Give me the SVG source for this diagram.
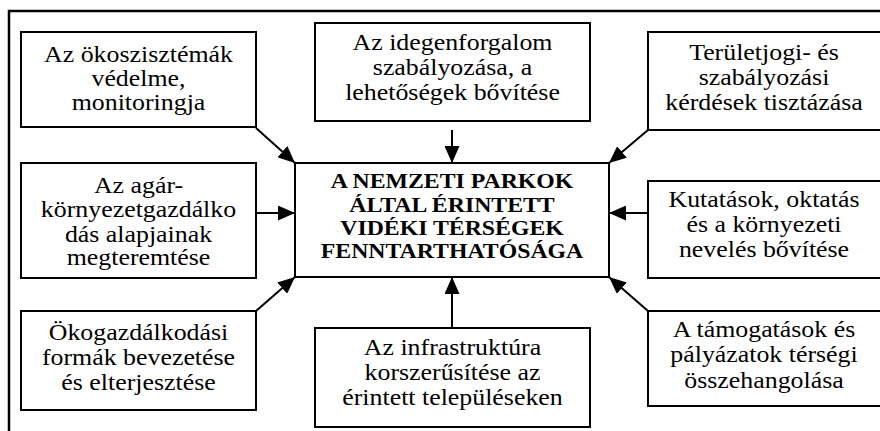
<svg xmlns="http://www.w3.org/2000/svg" width="880" height="431" viewBox="0 0 880 431">
<style>
.box{fill:#fff;stroke:#000;stroke-width:2}
.t{font-family:"Liberation Serif","Times New Roman",serif;font-size:22.5px;text-anchor:middle;fill:#000}
.b{font-family:"Liberation Serif","Times New Roman",serif;font-size:20.5px;font-weight:bold;text-anchor:middle;fill:#000}
.c{stroke:#000;stroke-width:2;fill:none;marker-end:url(#ah)}
</style>
<defs>
<marker id="ah" viewBox="0 0 17 15" refX="17" refY="7.5" markerWidth="17" markerHeight="15" markerUnits="userSpaceOnUse" orient="auto">
<path d="M0,0 L17,7.5 L0,15 z" fill="#000"/>
</marker>
</defs>
<rect x="0" y="0" width="880" height="431" fill="#fff"/>
<rect x="9" y="11" width="900" height="500" fill="none" stroke="#000" stroke-width="2.5"/>
<g id="connectors">
<line class="c" x1="256" y1="128" x2="295" y2="163"/>
<line class="c" x1="452" y1="130" x2="452" y2="163"/>
<line class="c" x1="648" y1="130" x2="609" y2="163"/>
<line class="c" x1="256" y1="213" x2="295" y2="213"/>
<line class="c" x1="648" y1="213" x2="609" y2="213"/>
<line class="c" x1="256" y1="311" x2="295" y2="277"/>
<line class="c" x1="452" y1="328" x2="452" y2="277"/>
<line class="c" x1="648" y1="311" x2="609" y2="277"/>
</g>
<g id="n-tl">
<rect class="box" x="21" y="32" width="235" height="95"/>
<text class="t" transform="translate(138.5 0) scale(1.15 1)"><tspan x="0" y="62">Az ökoszisztémák</tspan><tspan x="0" y="86">védelme,</tspan><tspan x="0" y="110">monitoringja</tspan></text>
</g>
<g id="n-tm">
<rect class="box" x="315" y="23" width="275" height="98"/>
<text class="t" transform="translate(452.5 0) scale(1.15 1)"><tspan x="0" y="50">Az idegenforgalom</tspan><tspan x="0" y="75">szabályozása, a</tspan><tspan x="0" y="100">lehetőségek bővítése</tspan></text>
</g>
<g id="n-tr">
<rect class="box" x="648" y="32" width="235" height="98"/>
<text class="t" transform="translate(764 0) scale(1.15 1)"><tspan x="0" y="60">Területjogi- és</tspan><tspan x="0" y="85">szabályozási</tspan><tspan x="0" y="110">kérdések tisztázása</tspan></text>
</g>
<g id="n-center">
<rect class="box" x="295" y="163" width="314" height="114"/>
<text class="b" transform="translate(452 0) scale(1.16 1)"><tspan x="0" y="188">A NEMZETI PARKOK</tspan><tspan x="0" y="212">ÁLTAL ÉRINTETT</tspan><tspan x="0" y="235">VIDÉKI TÉRSÉGEK</tspan><tspan x="0" y="258">FENNTARTHATÓSÁGA</tspan></text>
</g>
<g id="n-lm">
<rect class="box" x="21" y="163" width="235" height="115"/>
<text class="t" transform="translate(138.5 0) scale(1.15 1)"><tspan x="0" y="193">Az agár-</tspan><tspan x="0" y="217">környezetgazdálko</tspan><tspan x="0" y="242">dás alapjainak</tspan><tspan x="0" y="265">megteremtése</tspan></text>
</g>
<g id="n-rm">
<rect class="box" x="648" y="181" width="235" height="97"/>
<text class="t" transform="translate(764 0) scale(1.15 1)"><tspan x="0" y="207">Kutatások, oktatás</tspan><tspan x="0" y="232">és a környezeti</tspan><tspan x="0" y="257">nevelés bővítése</tspan></text>
</g>
<g id="n-bl">
<rect class="box" x="21" y="311" width="235" height="99"/>
<text class="t" transform="translate(138.5 0) scale(1.15 1)"><tspan x="0" y="340">Ökogazdálkodási</tspan><tspan x="0" y="365">formák bevezetése</tspan><tspan x="0" y="390">és elterjesztése</tspan></text>
</g>
<g id="n-bm">
<rect class="box" x="315" y="328" width="275" height="99"/>
<text class="t" transform="translate(452.5 0) scale(1.15 1)"><tspan x="0" y="355">Az infrastruktúra</tspan><tspan x="0" y="380">korszerűsítése az</tspan><tspan x="0" y="405">érintett településeken</tspan></text>
</g>
<g id="n-br">
<rect class="box" x="648" y="311" width="235" height="95"/>
<text class="t" transform="translate(764 0) scale(1.15 1)"><tspan x="0" y="337">A támogatások és</tspan><tspan x="0" y="362">pályázatok térségi</tspan><tspan x="0" y="388">összehangolása</tspan></text>
</g>
</svg>
